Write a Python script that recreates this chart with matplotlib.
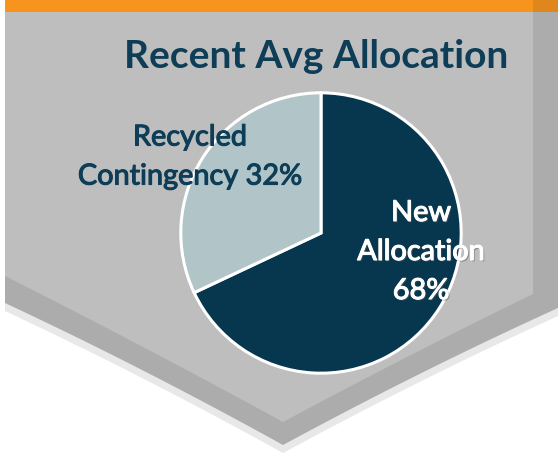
import matplotlib.pyplot as plt
import numpy as np
from matplotlib.patches import Polygon
import matplotlib.patheffects as pe

# data
slice_names = ['New\nAllocation', 'Recycled\nContingency']
slice_values = [68, 32]
slice_colors = ['#07374f', '#b1c4c7']
title = 'Recent Avg Allocation'

W, H = 558, 455
fig = plt.figure(figsize=(W / 100, H / 100), dpi=100)
fig.patch.set_facecolor('white')

# background axes in pixel coords (y down)
bg = fig.add_axes([0, 0, 1, 1])
bg.set_xlim(0, W)
bg.set_ylim(H, 0)
bg.axis('off')


def bow(p0, p1, p2, n=30):
    # quadratic bezier points from p0 to p2 with control p1
    t = np.linspace(0, 1, n)[:, None]
    p0, p1, p2 = map(np.array, (p0, p1, p2))
    return (1 - t) ** 2 * p0 + 2 * (1 - t) * t * p1 + t ** 2 * p2


def shield(left_y, tip, right_x, right_y, top=12, left_x=5, lift=6):
    lx = (left_x + tip[0]) / 2
    ly = (left_y + tip[1]) / 2 - lift
    rx = (right_x + tip[0]) / 2
    ry = (right_y + tip[1]) / 2 - lift
    pts = [(left_x, top), (right_x, top)]
    pts += list(bow((right_x, right_y), (rx, ry), tip))
    pts += list(bow(tip, (lx, ly), (left_x, left_y)))
    return np.array(pts)


# shadow, dark band, light face
bg.add_patch(Polygon(shield(311, (283, 453), W, 316), closed=True, fc='#e8e8e8', ec='none'))
bg.add_patch(Polygon(shield(303, (283, 445), W, 308), closed=True, fc='#acacac', ec='none'))
bg.add_patch(Polygon(shield(276, (283, 422), 533, 294, lift=3), closed=True, fc='#bebebe', ec='none'))

# orange bar on top
bg.add_patch(Polygon([(5, 0), (533, 0), (533, 12), (5, 12)], closed=True, fc='#f7941d', ec='none'))
bg.add_patch(Polygon([(533, 0), (W, 0), (W, 12), (533, 12)], closed=True, fc='#df861c', ec='none'))

# pie
cx, cy, r = 321, 233, 143
pie_ax = fig.add_axes([(cx - r) / W, 1 - (cy + r) / H, 2 * r / W, 2 * r / H])
pie_ax.pie(slice_values, colors=slice_colors, startangle=90, counterclock=False,
           wedgeprops=dict(edgecolor='white', linewidth=2.2))
pie_ax.set_xlim(-1.02, 1.02)
pie_ax.set_ylim(-1.02, 1.02)
pie_ax.axis('off')

# text overlay
tx = fig.add_axes([0, 0, 1, 1])
tx.set_xlim(0, W)
tx.set_ylim(H, 0)
tx.axis('off')
tx.patch.set_alpha(0)

font = 'Lato'
tx.text(316, 57, title, ha='center', va='center', fontsize=28, fontweight='bold',
        color='#0d3d57', family=font)

labels = [f'{slice_names[0]}\n{slice_values[0]}%', f'{slice_names[1]} {slice_values[1]}%']
tx.text(421, 252, labels[0], ha='center', va='center', fontsize=20.8, color='white',
        family=font, linespacing=1.62,
        path_effects=[pe.withSimplePatchShadow(offset=(1, -1), shadow_rgbFace='#555555', alpha=0.5),
                      pe.Stroke(linewidth=0.8, foreground='white'), pe.Normal()])
tx.text(190, 157, labels[1], ha='center', va='center', fontsize=20.8, color='#0d3d57',
        family=font, linespacing=1.62,
        path_effects=[pe.Stroke(linewidth=0.8, foreground='#0d3d57'), pe.Normal()])

fig.savefig('out.png', dpi=100)
